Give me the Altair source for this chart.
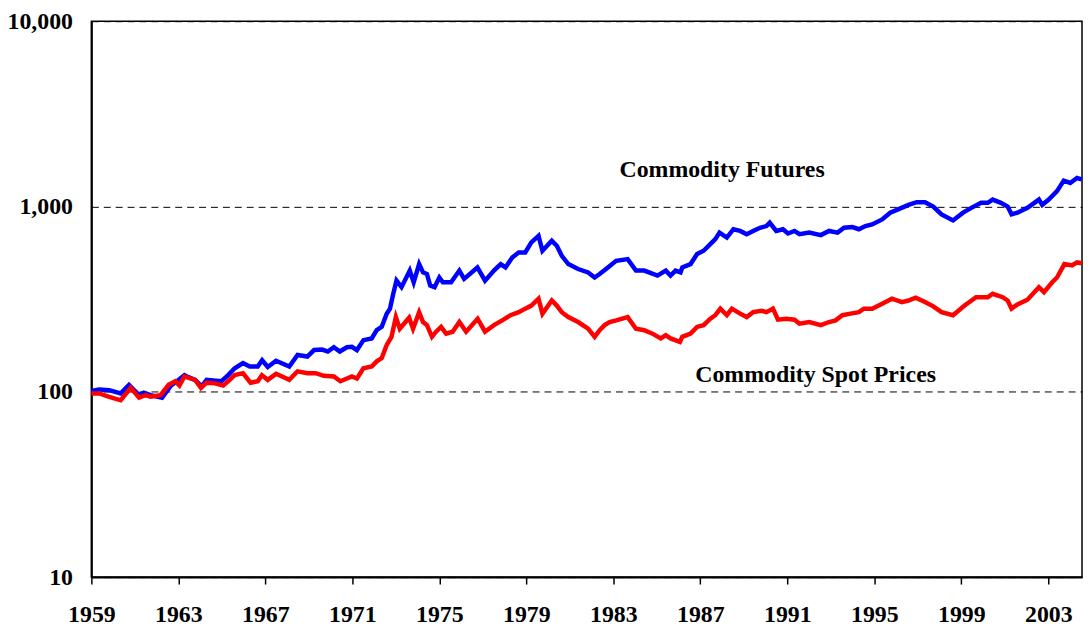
import altair as alt
import pandas as pd

# Commodity Futures (blue)
fut_year = [1959.0, 1959.36, 1959.82, 1960.35, 1960.73, 1961.19, 1961.41, 1961.72, 1962.25, 1962.63,
            1962.93, 1963.28, 1963.46, 1963.77, 1964.07, 1964.30, 1964.60, 1964.98, 1965.29, 1965.59,
            1965.97, 1966.28, 1966.65, 1966.85, 1967.11, 1967.49, 1968.10, 1968.48, 1968.93, 1969.24,
            1969.61, 1969.87, 1970.15, 1970.42, 1970.75, 1970.98, 1971.21, 1971.51, 1971.89, 1972.12,
            1972.35, 1972.58, 1972.73, 1972.88, 1973.03, 1973.26, 1973.64, 1973.82, 1974.07, 1974.25,
            1974.43, 1974.58, 1974.78, 1975.00, 1975.16, 1975.54, 1975.92, 1976.14, 1976.75, 1977.10,
            1977.51, 1977.82, 1978.04, 1978.35, 1978.65, 1978.95, 1979.23, 1979.56, 1979.74, 1980.17,
            1980.40, 1980.63, 1980.93, 1981.38, 1981.84, 1982.14, 1982.37, 1982.75, 1983.13, 1983.66,
            1984.04, 1984.42, 1985.03, 1985.41, 1985.63, 1985.86, 1986.09, 1986.17, 1986.55, 1986.85,
            1987.15, 1987.46, 1987.69, 1987.88, 1988.22, 1988.52, 1988.83, 1989.13, 1989.43, 1989.74,
            1990.04, 1990.19, 1990.49, 1990.80, 1991.03, 1991.33, 1991.56, 1992.01, 1992.54, 1992.92,
            1993.31, 1993.61, 1993.99, 1994.29, 1994.59, 1994.90, 1995.36, 1995.73, 1996.12, 1996.57,
            1996.95, 1997.33, 1997.71, 1998.09, 1998.62, 1999.08, 1999.46, 1999.91, 2000.22, 2000.44,
            2000.82, 2001.13, 2001.31, 2001.58, 2002.04, 2002.57, 2002.72, 2003.02, 2003.40, 2003.71,
            2004.01, 2004.32, 2004.54]
fut_val = [101, 103, 102, 98, 109, 96, 99, 96, 93, 107,
           114, 123, 120, 116, 107, 116, 115, 114, 123, 134,
           143, 137, 137, 148, 136, 147, 137, 158, 155, 168,
           169, 165, 174, 165, 174, 175, 168, 190, 194, 215,
           224, 264, 281, 338, 398, 367, 451, 390, 489, 441,
           432, 374, 367, 414, 390, 390, 451, 407, 469, 398,
           451, 489, 469, 531, 565, 565, 640, 694, 577, 653,
           614, 542, 489, 460, 441, 414, 432, 469, 509, 520,
           451, 451, 424, 451, 424, 451, 441, 469, 489, 554,
           577, 627, 667, 723, 680, 754, 738, 709, 738, 768,
           784, 818, 738, 754, 715, 738, 709, 723, 701, 738,
           723, 768, 775, 754, 784, 800, 852, 926, 968, 1021,
           1055, 1055, 1000, 907, 841, 926, 983, 1047, 1047, 1090,
           1047, 1000, 907, 926, 983, 1090, 1021, 1090, 1210, 1380,
           1340, 1425, 1400]

# Commodity Spot Prices (red)
spot_year = [1959.0, 1959.36, 1959.82, 1960.35, 1960.81, 1961.19, 1961.49, 1961.72, 1962.18, 1962.55,
             1962.86, 1963.05, 1963.28, 1963.77, 1964.04, 1964.30, 1964.68, 1965.06, 1965.36, 1965.59,
             1965.97, 1966.32, 1966.65, 1966.84, 1967.11, 1967.49, 1968.10, 1968.48, 1968.93, 1969.31,
             1969.69, 1970.15, 1970.45, 1970.75, 1970.98, 1971.21, 1971.51, 1971.89, 1972.12, 1972.35,
             1972.58, 1972.80, 1973.00, 1973.18, 1973.61, 1973.79, 1974.07, 1974.25, 1974.43, 1974.66,
             1974.85, 1975.08, 1975.31, 1975.61, 1975.92, 1976.23, 1976.76, 1977.10, 1977.51, 1977.89,
             1978.27, 1978.65, 1978.95, 1979.23, 1979.56, 1979.74, 1980.17, 1980.40, 1980.63, 1980.93,
             1981.38, 1981.84, 1982.14, 1982.37, 1982.60, 1982.83, 1983.13, 1983.66, 1984.04, 1984.42,
             1984.80, 1985.18, 1985.41, 1985.63, 1986.06, 1986.17, 1986.55, 1986.85, 1987.15, 1987.46,
             1987.69, 1987.92, 1988.22, 1988.45, 1988.83, 1989.13, 1989.43, 1989.81, 1990.04, 1990.34,
             1990.57, 1990.95, 1991.33, 1991.56, 1992.01, 1992.54, 1992.92, 1993.22, 1993.53, 1993.91,
             1994.29, 1994.52, 1994.90, 1995.36, 1995.81, 1996.27, 1996.57, 1996.90, 1997.33, 1997.71,
             1998.09, 1998.62, 1999.15, 1999.68, 2000.22, 2000.44, 2000.90, 2001.13, 2001.31, 2001.58,
             2002.04, 2002.57, 2002.80, 2003.18, 2003.40, 2003.74, 2004.09, 2004.32, 2004.54]
spot_val = [98, 98, 94, 90, 105, 93, 96, 94, 96, 109,
            114, 108, 121, 116, 105, 112, 111, 108, 116, 123,
            126, 112, 114, 123, 116, 125, 116, 129, 126, 126,
            122, 121, 114, 118, 121, 118, 134, 137, 146, 152,
            179, 198, 253, 219, 251, 219, 269, 238, 229, 198,
            211, 224, 206, 211, 238, 211, 248, 211, 229, 243,
            259, 269, 281, 292, 318, 264, 311, 292, 269, 253,
            238, 219, 198, 215, 229, 238, 243, 253, 219, 215,
            206, 194, 202, 194, 186, 198, 206, 224, 229, 248,
            259, 281, 259, 281, 264, 253, 269, 274, 269, 281,
            245, 248, 245, 233, 238, 229, 238, 243, 259, 264,
            269, 281, 281, 299, 318, 305, 311, 322, 305, 289,
            269, 259, 292, 324, 324, 338, 324, 311, 281, 296,
            314, 367, 345, 390, 414, 489, 481, 499, 494]

x_ticks = [1959, 1963, 1967, 1971, 1975, 1979, 1983, 1987, 1991, 1995, 1999, 2003]
y_ticks = [10, 100, 1000, 10000]

label_text = ["Commodity Futures", "Commodity Spot Prices"]
label_year = [1988.0, 1992.3]
label_val = [1565, 123]

FONT = "Liberation Serif"

fut_df = pd.DataFrame({"year": fut_year, "value": fut_val})
spot_df = pd.DataFrame({"year": spot_year, "value": spot_val})
lab_df = pd.DataFrame({"year": label_year, "value": label_val, "text": label_text})

x_enc = alt.X(
    "year:Q",
    scale=alt.Scale(domain=[1959, 2004.55], nice=False, zero=False),
    axis=alt.Axis(
        values=x_ticks, format="d", title=None, grid=False,
        tickSize=7, tickWidth=1.5, tickColor="black",
        domainColor="black", domainWidth=2,
        labelFont=FONT, labelFontWeight="bold", labelFontSize=24, labelColor="black",
        labelPadding=19, labelFlush=False, labelOverlap=False,
    ),
)
y_enc = alt.Y(
    "value:Q",
    scale=alt.Scale(type="log", domain=[10, 10000], nice=False),
    axis=alt.Axis(
        values=y_ticks, format=",", title=None,
        grid=True, gridDash=[7, 5], gridColor="black", gridWidth=1, gridOpacity=1,
        ticks=False, domainColor="black", domainWidth=2,
        labelFont=FONT, labelFontWeight="bold", labelFontSize=24, labelColor="black",
        labelPadding=19, labelFlush=False, labelOverlap=False,
    ),
)

fut_line = alt.Chart(fut_df).mark_line(color="#0000FF", strokeWidth=4.5).encode(x=x_enc, y=y_enc)
spot_line = alt.Chart(spot_df).mark_line(color="#FF0000", strokeWidth=4.5).encode(x="year:Q", y="value:Q")
labels = alt.Chart(lab_df).mark_text(
    font=FONT, fontWeight="bold", fontSize=24, color="black", align="center", baseline="middle"
).encode(x="year:Q", y="value:Q", text="text:N")

chart = (
    alt.layer(fut_line, spot_line, labels)
    .properties(
        width=998, height=560,
        autosize=alt.AutoSizeParams(type="none"),
        padding={"left": 84, "top": 11, "right": 2, "bottom": 52},
        background="white",
    )
    .configure_view(stroke="black", strokeWidth=1.5)
)

chart.save("out.html", embed_options={"renderer": "svg", "actions": False})
